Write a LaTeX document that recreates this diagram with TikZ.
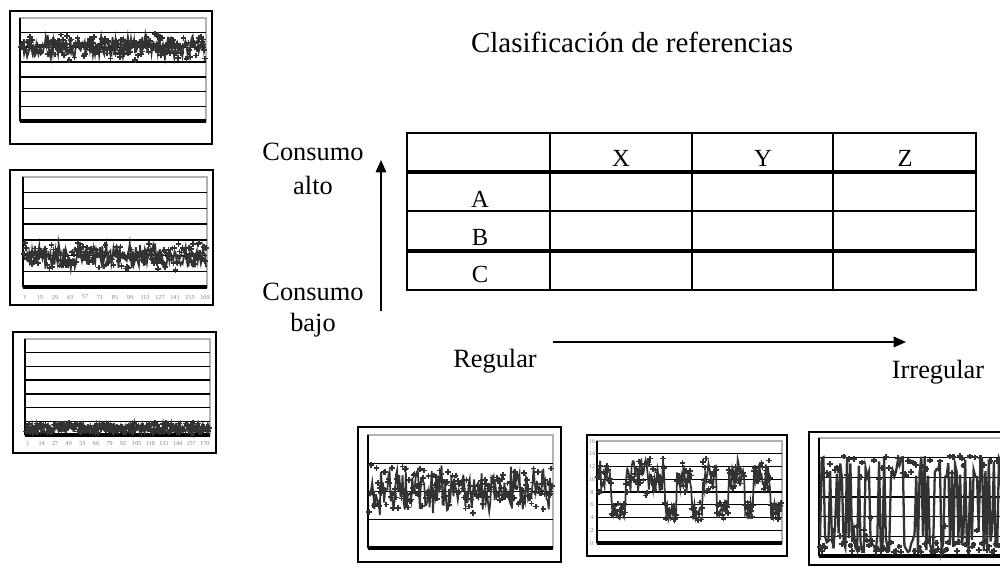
\documentclass[tikz,border=0pt]{standalone}
\usepackage{fontspec}
\setmainfont{Liberation Serif}
\usetikzlibrary{arrows.meta}
\tikzstyle{etiq} = [inner sep=0pt, font=\fontsize{15}{18}\selectfont]
\tikzstyle{titulo} = [inner sep=0pt, font=\fontsize{16.5}{20}\selectfont]
\tikzstyle{celda} = [inner sep=0pt, font=\fontsize{14}{16}\selectfont]
\tikzstyle{fina} = [draw, line width=0.6pt]
\tikzstyle{gruesa} = [draw, line width=2.3pt]
\tikzstyle{columna} = [draw, line width=1.4pt]
\tikzstyle{flecha} = [draw, line width=0.8pt, -{Triangle[length=7pt,width=6pt]}]
\tikzstyle{marco} = [draw, line width=1.2pt]
\tikzstyle{zona} = [draw, gray!60, line width=0.6pt]
\tikzstyle{rejilla} = [draw, line width=0.8pt]
\tikzstyle{eje} = [draw, line width=0.8pt]
\tikzstyle{serie} = [draw, black!80, line width=1pt, mark=+, mark size=1.6pt]
\tikzstyle{num} = [inner sep=0pt, gray, font=\fontsize{3.5}{4}\selectfont]
% marco, zona del grafico y rejilla
\newcommand{\grafico}[9]{%
  \path [marco] (#1,#2) rectangle (#3,#4);
  \path [zona] (#5,#6) rectangle (#7,#8);
  \foreach \k in {1,...,#9}
    \path [rejilla] (#5,{#6+(#8-#6)*\k/#9}) -- (#7,{#6+(#8-#6)*\k/#9});
  \path [eje] (#5,#6) -- (#5,#8);
  \path [draw, line width=2pt] (#5,#8) -- (#7,#8);
}

\begin{document}
\begin{tikzpicture}[x=0.02cm, y=-0.02cm]
	\useasboundingbox (0,0) rectangle (1000,566);
	\clip (0,0) rectangle (1000,566);

	\node [titulo] (tit) at (632,42) {Clasificación de referencias};

	% tabla
	\path [fina] (407,133) rectangle (976,290);
	\path [fina] (407,211) -- (976,211);
	\path [gruesa] (407,172) -- (976,172);
	\path [gruesa] (407,251) -- (976,251);
	\foreach \c in {550,692,833}
		\path [columna] (\c,133) -- (\c,290);
	\node [celda] (x) at (621,158) {X};
	\node [celda] (y) at (763,158) {Y};
	\node [celda] (z) at (905,158) {Z};
	\node [celda] (a) at (480,199) {A};
	\node [celda] (b) at (480,237) {B};
	\node [celda] (c) at (480,274) {C};

	% ejes
	\node [etiq] (calto1) at (313,152) {Consumo};
	\node [etiq] (calto2) at (313,185) {alto};
	\node [etiq] (cbajo1) at (313,292) {Consumo};
	\node [etiq] (cbajo2) at (313,325) {bajo};
	\node [etiq] (reg) at (495,361) {Regular};
	\node [etiq] (irr) at (938,372) {Irregular};
	\coordinate (ini) at (381,311);
	\coordinate (fin) at (381,160);
	\coordinate (izq) at (553,342);
	\coordinate (der) at (906,342);
	\path [flecha] (ini) -- (fin);
	\path [flecha] (izq) -- (der);

	% graficos de la izquierda
	\grafico{10}{11}{212}{144}{20}{18}{206}{121}{7}
	\pgfmathsetseed{11}
	\path [serie, domain=21:205, samples=180] plot (\x,{47+8*rand+6*rand});

	\grafico{10}{170}{213}{305}{23}{177}{207}{287}{7}
	\pgfmathsetseed{12}
	\path [serie, domain=24:206, samples=180] plot (\x,{256+9*rand+6*rand});
	\foreach \t [count=\i from 0] in {1,15,...,169}
		\node [num] (ex\i) at ({25+\i*15},297) {\t};

	\grafico{13}{332}{216}{453}{25}{339}{210}{435}{7}
	\pgfmathsetseed{13}
	\path [serie, domain=26:209, samples=180] plot (\x,{428+5*rand});
	\foreach \t [count=\i from 0] in {1,14,...,170}
		\node [num] (fx\i) at ({28+\i*13.6},443) {\t};

	% graficos de abajo
	\grafico{358}{427}{561}{562}{368}{435}{553}{548}{4}
	\pgfmathsetseed{14}
	\path [serie, domain=369:552, samples=170] plot (\x,{490+16*rand+10*rand});

	\grafico{587}{435}{787}{556}{597}{441}{782}{543}{8}
	\pgfmathsetseed{15}
	\path [serie, domain=598:781, samples=170] plot (\x,{ifthenelse((\x>611)*(\x<626)+(\x>665)*(\x<677)+(\x>692)*(\x<703)+(\x>717)*(\x<729)+(\x>745)*(\x<753)+(\x>771)>0, 511-9*rand, 476-13*rand-8*rand)});
	\foreach \t [count=\i from 0] in {16,14,...,0}
		\node [num] (gy\i) at (592,{441+\i*12.75}) {\t};

	\grafico{809}{432}{1012}{565}{819}{438}{1004}{556}{6}
	\pgfmathsetseed{16}
	\path [serie, line width=1.3pt, domain=820:1004, samples=110] plot (\x,{ifthenelse(rnd<0.5,468+12*rand,552-35*rnd*rnd)});
\end{tikzpicture}
\end{document}
